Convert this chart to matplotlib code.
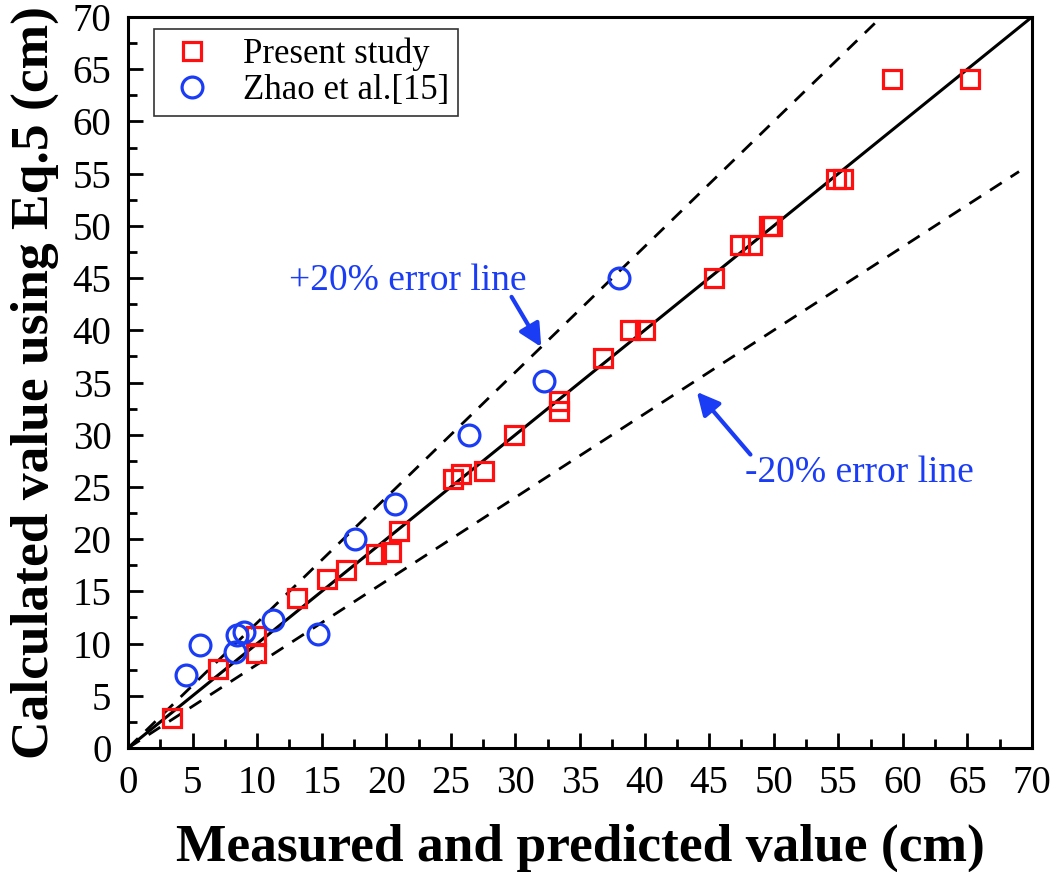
import matplotlib
matplotlib.use("Agg")
import matplotlib.pyplot as plt
import numpy as np

plt.rcParams['font.family'] = ['Liberation Serif', 'DejaVu Serif']

# Present study (measured/predicted vs calculated)
present_x = [3.4, 7.0, 9.9, 9.9, 13.1, 15.4, 16.9, 19.2, 20.4, 21.0,
             25.2, 25.8, 27.6, 29.9, 33.4, 33.4, 36.8, 38.9, 40.0,
             45.4, 47.4, 48.3, 49.6, 49.9, 54.8, 55.4, 59.2, 65.2]
present_y = [2.9, 7.6, 9.1, 10.7, 14.4, 16.2, 17.0, 18.6, 18.8, 20.8,
             25.8, 26.2, 26.5, 30.0, 33.2, 32.3, 37.3, 40.0, 40.0,
             45.0, 48.2, 48.2, 50.0, 50.0, 54.5, 54.5, 64.1, 64.1]

# Zhao et al. [15]
zhao_x = [4.5, 5.6, 8.3, 8.4, 9.0, 11.2, 14.7, 17.6, 20.7, 26.4, 32.2, 38.0]
zhao_y = [7.0, 9.9, 9.2, 10.8, 11.1, 12.3, 10.9, 20.0, 23.4, 30.0, 35.1, 45.0]

red = '#ff1010'
blue = '#1a3cf5'

fig = plt.figure(figsize=(10.53, 8.72), dpi=100)
ax = fig.add_axes([0.1216, 0.1422, 0.8584, 0.8383])

line = np.array([0, 70])
dash = (0, (5, 3.8))
ax.plot(line, line, color='black', lw=2.2, zorder=2)
ax.plot([0, 70 / 1.2], [0, 70], color='black', lw=2.0, ls=dash, zorder=2)
ax.plot([0, 69], [0, 69 * 0.8], color='black', lw=2.0, ls=dash, zorder=2)

ax.plot(present_x, present_y, ls='none', marker='s', ms=13, mfc='none',
        mec=red, mew=2.3, label='Present study', zorder=3)
ax.plot(zhao_x, zhao_y, ls='none', marker='o', ms=15, mfc='none',
        mec=blue, mew=2.3, label='Zhao et al.[15]', zorder=3)

arrow = dict(arrowstyle='-|>', color=blue, lw=3, mutation_scale=34,
             shrinkA=0, shrinkB=0)
ax.text(12.5, 43.9, '+20% error line', fontsize=27, color=blue,
        ha='left', va='baseline')
ax.annotate('', xy=(32.0, 38.4), xytext=(29.7, 43.2), arrowprops=arrow)
ax.text(47.8, 25.5, '-20% error line', fontsize=27, color=blue,
        ha='left', va='baseline')
ax.annotate('', xy=(44.05, 34.1), xytext=(48.2, 28.1), arrowprops=arrow)

ax.set_xlim(0, 70)
ax.set_ylim(0, 70)
ax.set_xticks(np.arange(0, 71, 5))
ax.set_yticks(np.arange(0, 71, 5))
ax.set_xticks(np.arange(2.5, 70, 5), minor=True)
ax.set_yticks(np.arange(2.5, 70, 5), minor=True)
ax.tick_params(which='major', direction='in', length=11, width=2,
               labelsize=28, pad=12, top=False, right=False)
ax.tick_params(which='minor', direction='in', length=6.5, width=2,
               top=False, right=False)
for s in ax.spines.values():
    s.set_linewidth(2.2)

ax.set_xlabel('Measured and predicted value (cm)', fontsize=38.5,
              fontweight='bold', labelpad=16)
ax.set_ylabel('Calculated value using Eq.5 (cm)', fontsize=38.5,
              fontweight='bold', labelpad=10)

leg = ax.legend(loc='upper left', bbox_to_anchor=(0.029, 0.984),
                borderaxespad=0, fontsize=25, frameon=True, fancybox=False,
                edgecolor='black', handletextpad=0.6, labelspacing=0.1,
                borderpad=0.25, handlelength=1.7)
leg.get_frame().set_linewidth(1.2)

fig.savefig('out.png', dpi=100)
